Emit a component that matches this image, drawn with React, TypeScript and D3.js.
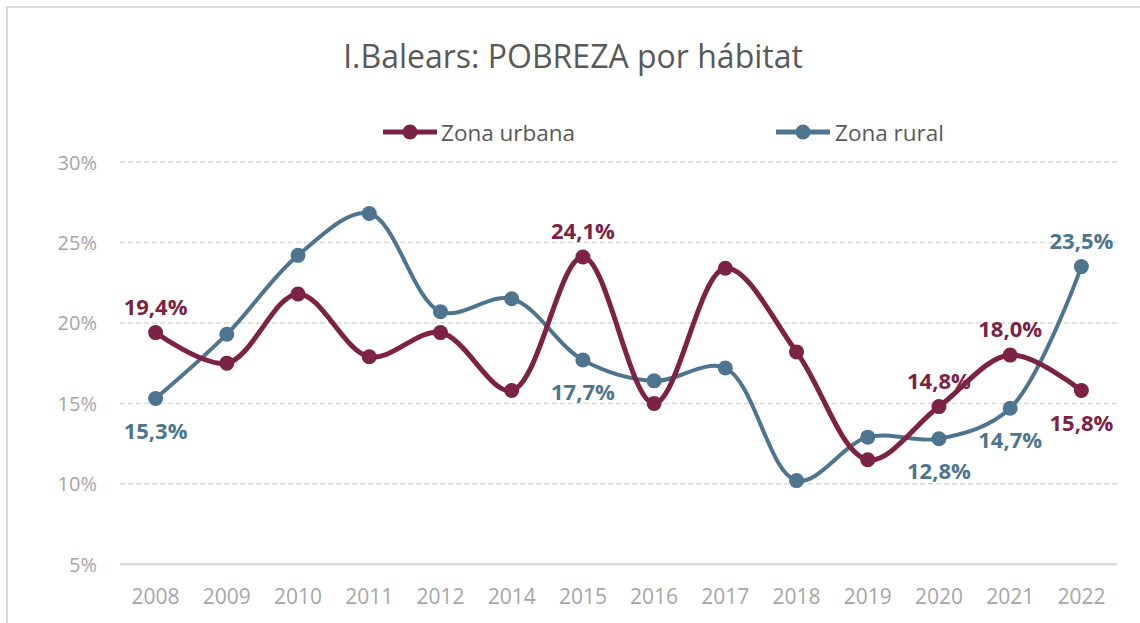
import React from "react";
import * as d3 from "d3";

const years = ["2008", "2009", "2010", "2011", "2012", "2014", "2015", "2016", "2017", "2018", "2019", "2020", "2021", "2022"];
const urbana = [19.4, 17.5, 21.8, 17.9, 19.4, 15.8, 24.1, 15.0, 23.4, 18.2, 11.5, 14.8, 18.0, 15.8];
const rural = [15.3, 19.3, 24.2, 26.8, 20.7, 21.5, 17.7, 16.4, 17.2, 10.2, 12.9, 12.8, 14.7, 23.5];
const yTicks = [5, 10, 15, 20, 25, 30];
const seriesNames = ["Zona urbana", "Zona rural"];
// which points carry a value label, and on which side
const urbanaLabels = [{ i: 0, pos: "above" }, { i: 6, pos: "above" }, { i: 11, pos: "above" }, { i: 12, pos: "above" }, { i: 13, pos: "below" }];
const ruralLabels = [{ i: 0, pos: "below" }, { i: 6, pos: "below" }, { i: 11, pos: "below" }, { i: 12, pos: "below" }, { i: 13, pos: "above" }];

const W = 1140, H = 623;
const URB = "#7c2244";
const RUR = "#4e758f";
const FONT = "'Open Sans', sans-serif";

export default function App() {
  const x = d3.scaleBand().domain(years).range([120, 1117]);
  const y = d3.scaleLinear().domain([5, 30]).range([564.3, 162]);
  const cx = (i: number) => (x(years[i]) as number) + x.bandwidth() / 2;
  const line = d3.line<number>().x((_, i) => cx(i)).y((d) => y(d)).curve(d3.curveCatmullRom.alpha(0.5));
  const fmt = (v: number) => v.toFixed(1).replace(".", ",") + "%";

  const series = [
    { name: seriesNames[0], data: urbana, color: URB, width: 5, labels: urbanaLabels },
    { name: seriesNames[1], data: rural, color: RUR, width: 4, labels: ruralLabels },
  ];

  return (
    <svg width={W} height={H} style={{ position: "absolute", left: 0, top: 0, background: "#fff" }}>
      <rect x={7} y={7} width={W + 10} height={H + 10} fill="#fff" stroke="#d9d9d9" strokeWidth={2} />
      <text x={573} y={55} textAnchor="middle" dominantBaseline="central" fontFamily={FONT} fontSize={32} fill="#595959">
        I.Balears: POBREZA por hábitat
      </text>
      {/* legend */}
      {[{ x0: 383, tx: 441 }, { x0: 776, tx: 835 }].map((p, k) => (
        <g key={k}>
          <line x1={p.x0} x2={p.x0 + 54} y1={132} y2={132} stroke={series[k].color} strokeWidth={5} />
          <circle cx={p.x0 + 27} cy={132} r={7.5} fill={series[k].color} />
          <text x={p.tx} y={132} dominantBaseline="central" fontFamily={FONT} fontSize={22.5} fill="#595959">
            {series[k].name}
          </text>
        </g>
      ))}
      {/* grid */}
      {yTicks.map((t) => (
        <g key={t}>
          {t > 5 ? (
            <line x1={120} x2={1117} y1={y(t)} y2={y(t)} stroke="#d9d9d9" strokeWidth={1.5} strokeDasharray="5,3" />
          ) : (
            <line x1={120} x2={1117} y1={y(t)} y2={y(t)} stroke="#d9d9d9" strokeWidth={2.5} />
          )}
          <text x={97} y={y(t)} textAnchor="end" dominantBaseline="central" fontFamily={FONT} fontSize={20} fill="#a6a6a6">
            {t}%
          </text>
        </g>
      ))}
      {years.map((yr, i) => (
        <text key={yr} x={cx(i)} y={596} textAnchor="middle" dominantBaseline="central" fontFamily={FONT} fontSize={21} fill="#a6a6a6">
          {yr}
        </text>
      ))}
      {[series[1], series[0]].map((s) => (
        <g key={s.name}>
          <path d={line(s.data) as string} fill="none" stroke={s.color} strokeWidth={s.width} strokeLinejoin="round" />
          {s.data.map((v, i) => (
            <circle key={i} cx={cx(i)} cy={y(v)} r={7.5} fill={s.color} />
          ))}
        </g>
      ))}
      {series.map((s) =>
        s.labels.map((l) => (
          <text
            key={s.name + l.i}
            x={cx(l.i)}
            y={y(s.data[l.i]) + (l.pos === "above" ? -27 : 31)}
            textAnchor="middle"
            dominantBaseline="central"
            fontFamily={FONT}
            fontWeight="bold"
            fontSize={22}
            fill={s.color}
          >
            {fmt(s.data[l.i])}
          </text>
        ))
      )}
    </svg>
  );
}
